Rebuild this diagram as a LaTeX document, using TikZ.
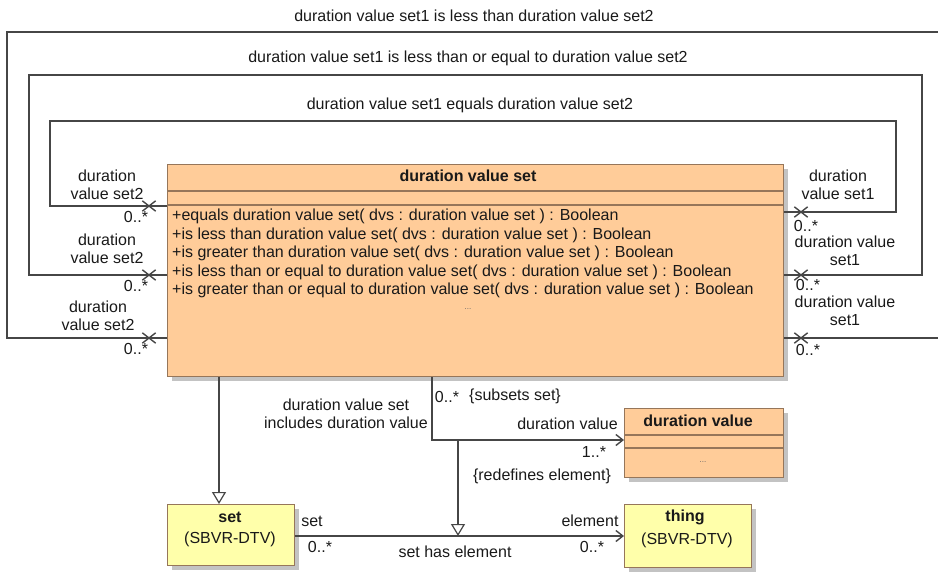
\documentclass[tikz,border=0pt]{standalone}
\usepackage{fontspec}
\setmainfont{Liberation Sans}
\usetikzlibrary{arrows.meta,shapes.misc,shadows}
\definecolor{orangefill}{RGB}{255,204,153}
\definecolor{yellowfill}{RGB}{255,255,170}
\definecolor{boxline}{RGB}{150,118,90}
\definecolor{wire}{RGB}{70,70,70}
\definecolor{shadowc}{RGB}{195,195,195}
\definecolor{ink}{RGB}{25,25,25}
\begin{document}
\begin{tikzpicture}[x=1pt,y=-1pt,
  txt/.style={font=\fontsize{16}{18}\selectfont, inner sep=0pt, text=ink},
  boldtxt/.style={font=\fontsize{16}{18}\selectfont\bfseries, inner sep=0pt, text=ink},
  smalltxt/.style={font=\fontsize{8}{9}\selectfont, inner sep=0pt, text=black!60},
  classbox/.style={draw=boxline, line width=1.2pt, anchor=north west, inner sep=0pt,
     drop shadow={shadow xshift=4pt, shadow yshift=-4pt, fill=shadowc, opacity=1}},
  orangebox/.style={classbox, fill=orangefill},
  yellowbox/.style={classbox, fill=yellowfill},
  sepline/.style={draw=boxline, line width=1.2pt},
  wireline/.style={draw=wire, line width=1.2pt},
  navarrow/.style={wireline, -{Straight Barb[length=7pt,width=11pt,line width=1.4pt]}},
  genarrow/.style={wireline, -{Triangle[open, length=12pt, width=14pt, fill=white, line width=1.2pt]}},
  xmark/.style={draw=wire, line width=1.4pt, cross out, minimum width=12pt, minimum height=9pt, inner sep=0pt},
]
\useasboundingbox (0,0) rectangle (938,571);

% ---------- classes ----------
\node[orangebox, minimum width=616pt, minimum height=212pt] (dvs) at (167,164) {};
\draw[sepline] (dvs.west |- 0,191) -- (dvs.east |- 0,191);
\draw[sepline] (dvs.west |- 0,205) -- (dvs.east |- 0,205);
\node[boldtxt] (dvsname) at (468,176) {duration value set};
\node[txt, anchor=west] (op1) at (172,216) {+equals duration value set( dvs : duration value set ) : Boolean};
\node[txt, anchor=west] (op2) at (172,235) {+is less than duration value set( dvs : duration value set ) : Boolean};
\node[txt, anchor=west] (op3) at (172,253) {+is greater than duration value set( dvs : duration value set ) : Boolean};
\node[txt, anchor=west] (op4) at (172,272) {+is less than or equal to duration value set( dvs : duration value set ) : Boolean};
\node[txt, anchor=west] (op5) at (172,290) {+is greater than or equal to duration value set( dvs : duration value set ) : Boolean};
\node[smalltxt] (dvsdots) at (468,309) {...};

\node[orangebox, minimum width=159pt, minimum height=69pt] (dv) at (624,408) {};
\draw[sepline] (dv.west |- 0,435) -- (dv.east |- 0,435);
\draw[sepline] (dv.west |- 0,448) -- (dv.east |- 0,448);
\node[boldtxt] (dvname) at (698,421) {duration value};
\node[smalltxt] (dvdots) at (703,462) {...};

\node[yellowbox, minimum width=127pt, minimum height=61pt] (set) at (167,504) {};
\node[boldtxt] (setname) at (230,517) {set};
\node[txt] (setpkg) at (230,539) {(SBVR-DTV)};

\node[yellowbox, minimum width=127pt, minimum height=63pt] (thing) at (624,504) {};
\node[boldtxt] (thingname) at (685,517) {thing};
\node[txt] (thingpkg) at (687,540) {(SBVR-DTV)};

% ---------- self associations ----------
\draw[wireline] (dvs.west |- 0,206) -- (50,206) -- (50,121) -- (896,121) -- (896,212) -- (dvs.east |- 0,212);
\draw[wireline] (dvs.west |- 0,275) -- (29,275) -- (29,75) -- (922,75) -- (922,275) -- (dvs.east |- 0,275);
\draw[wireline] (dvs.west |- 0,338) -- (7,338) -- (7,32) -- (950,32) -- (950,338) -- (dvs.east |- 0,338);
\node[xmark] (xl1) at (149,206) {};
\node[xmark] (xl2) at (149,275) {};
\node[xmark] (xl3) at (149,338) {};
\node[xmark] (xr1) at (801,212) {};
\node[xmark] (xr2) at (801,275) {};
\node[xmark] (xr3) at (801,338) {};

\node[txt] (a1) at (474,16) {duration value set1 is less than duration value set2};
\node[txt] (a2) at (468,58) {duration value set1 is less than or equal to duration value set2};
\node[txt] (a3) at (470,105) {duration value set1 equals duration value set2};

\node[txt, align=center] (l1) at (107,185) {duration\\value set2};
\node[txt] (l1m) at (136,217) {0..*};
\node[txt, align=center] (l2) at (107,249) {duration\\value set2};
\node[txt] (l2m) at (136,286) {0..*};
\node[txt, align=center] (l3) at (98,316) {duration\\value set2};
\node[txt] (l3m) at (136,349) {0..*};

\node[txt, align=center] (r1) at (838,185) {duration\\value set1};
\node[txt] (r1m) at (806,226) {0..*};
\node[txt, align=center] (r2) at (845,251) {duration value\\set1};
\node[txt] (r2m) at (808,285) {0..*};
\node[txt, align=center] (r3) at (845,311) {duration value\\set1};
\node[txt] (r3m) at (808,350) {0..*};

% ---------- lower associations ----------
\draw[genarrow] (dvs.south -| 219,0) -- (set.north -| 219,0);
\draw[navarrow] (dvs.south -| 432,0) -- (432,440) -- (dv.west |- 0,440);
\draw[navarrow] (set.east |- 0,536) -- (thing.west |- 0,536);
\coordinate (incl) at (458,440);
\draw[genarrow] (incl) -- (458,536);

\node[txt] (m1) at (447,397) {0..*};
\node[txt] (c1) at (515,396) {\{subsets set\}};
\node[txt, align=center] (n1) at (346,414) {duration value set\\includes duration value};
\node[txt, anchor=east] (e1) at (618,424) {duration value};
\node[txt] (m2) at (594,452) {1..*};
\node[txt] (c2) at (542,476) {\{redefines element\}};
\node[txt] (e2) at (312,521) {set};
\node[txt] (m3) at (320,547) {0..*};
\node[txt] (e3) at (590,521) {element};
\node[txt] (m4) at (592,547) {0..*};
\node[txt] (n2) at (455,552) {set has element};
\end{tikzpicture}
\end{document}
